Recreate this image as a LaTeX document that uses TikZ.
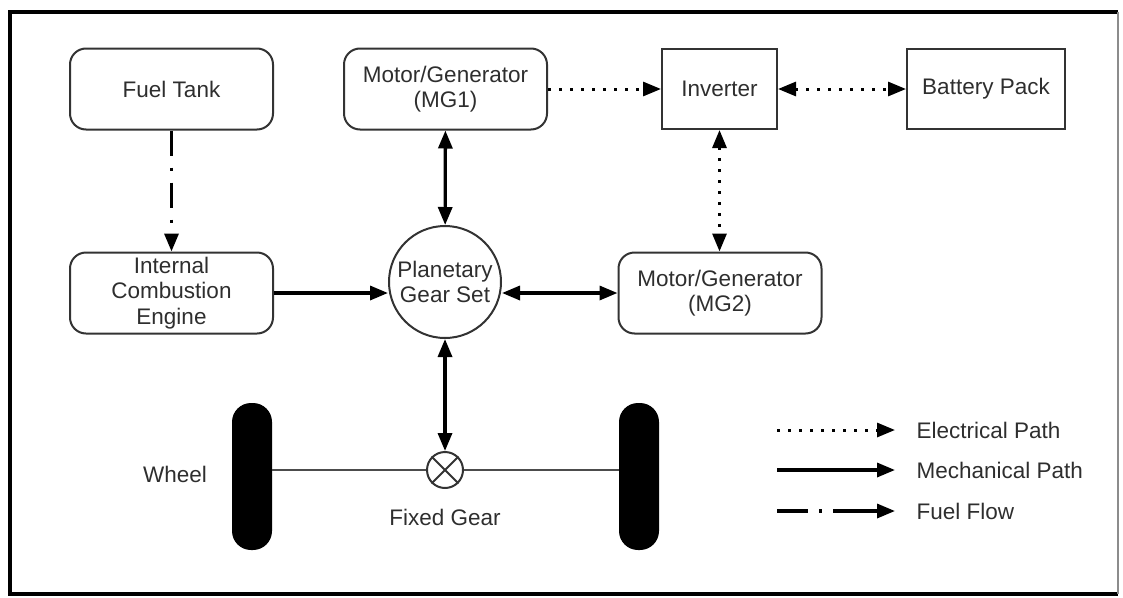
\documentclass[tikz,border=0pt]{standalone}
\usepackage{fontspec}
\setmainfont{Liberation Sans}
\usetikzlibrary{arrows.meta}
\definecolor{txt}{HTML}{2E2E2E}
\definecolor{bord}{HTML}{333333}
\begin{document}
\begin{tikzpicture}[x=1pt,y=-1pt,
  every node/.style={font=\fontsize{22.5}{25.5}\selectfont, text=txt},
  rbox/.style={draw=bord, line width=2pt, rounded corners=16pt, align=center, inner sep=0pt, minimum width=203pt, minimum height=81pt},
  sbox/.style={draw=bord, line width=2pt, align=center, inner sep=0pt, minimum height=80pt},
  tip/.tip={Triangle[length=18pt,width=14pt]},
  mech/.style={line width=3.3pt, black},
  elec/.style={line width=3pt, black, dash pattern=on 3pt off 8pt},
  fuel/.style={line width=3.3pt, black, dash pattern=on 25pt off 12pt on 3pt off 12pt},
  wheelshape/.style={fill=black, rounded corners=19pt}
]
\useasboundingbox (0,0) rectangle (1123,597);
% frame
\draw[line width=4pt, black] (1118,12) -- (10,12) -- (10,594) -- (1118,594);
\draw[line width=1.2pt, black!45] (1118,12) -- (1118,594);

% nodes
\node[rbox] (ft) at (171.5,89) {Fuel Tank};
\node[rbox] (mg1) at (445.5,89) {Motor/Generator\\(MG1)};
\node[sbox, minimum width=115pt] (inv) at (719.5,89) {Inverter};
\node[sbox, minimum width=158pt] (bat) at (986,89) {Battery Pack};
\node[rbox] (ice) at (171.5,293) {Internal\\Combustion\\Engine};
\node[draw=bord, line width=2pt, circle, minimum size=112pt, inner sep=0pt, align=center] (pgs) at (445,282) {Planetary\\Gear Set};
\node[rbox] (mg2) at (720,293) {Motor/Generator\\(MG2)};
\node[draw=bord, line width=2pt, circle, minimum size=36pt, inner sep=0pt] (fg) at (445,470) {};
\draw[bord, line width=1.8pt] (fg.north west) -- (fg.south east) (fg.north east) -- (fg.south west);

% wheels
\fill[wheelshape] (232,403) rectangle (272,550);
\fill[wheelshape] (619,403) rectangle (659,550);
\coordinate (wl) at (272,470);
\coordinate (wr) at (619,470);
\draw[line width=2.4pt, black!70] (wl) -- (fg.west) (fg.east) -- (wr);
\node (wlab) at (175,474) {Wheel};
\node (fglab) at (445,517) {Fixed Gear};

% connectors
\draw[fuel, -tip] (ft) -- (ice);
\draw[mech, tip-tip] (mg1) -- (pgs);
\draw[mech, -tip] (ice.east) -- (ice.east -| pgs.west);
\draw[mech, tip-tip] (pgs.east |- mg2.west) -- (mg2.west);
\draw[mech, tip-tip] (pgs) -- (fg);
\draw[elec, -tip] (mg1.east) -- (inv.west);
\draw[elec, tip-tip] (inv.east) -- (bat.west);
\draw[elec, tip-tip] (inv.south) -- (inv.south |- mg2.north);

% legend
\coordinate (l1a) at (777,430); \coordinate (l1b) at (895,430);
\coordinate (l2a) at (777,470); \coordinate (l2b) at (895,470);
\coordinate (l3a) at (777,511); \coordinate (l3b) at (895,511);
\draw[elec, -tip] (l1a) -- (l1b);
\draw[mech, -tip] (l2a) -- (l2b);
\draw[line width=3.3pt, black, dash pattern=on 31pt off 11pt on 3pt off 11pt on 60pt off 40pt, -tip] (l3a) -- (l3b);
\node[anchor=west] (lt1) at (913,430) {Electrical Path};
\node[anchor=west] (lt2) at (913,470) {Mechanical Path};
\node[anchor=west] (lt3) at (913,511) {Fuel Flow};
\end{tikzpicture}
\end{document}
